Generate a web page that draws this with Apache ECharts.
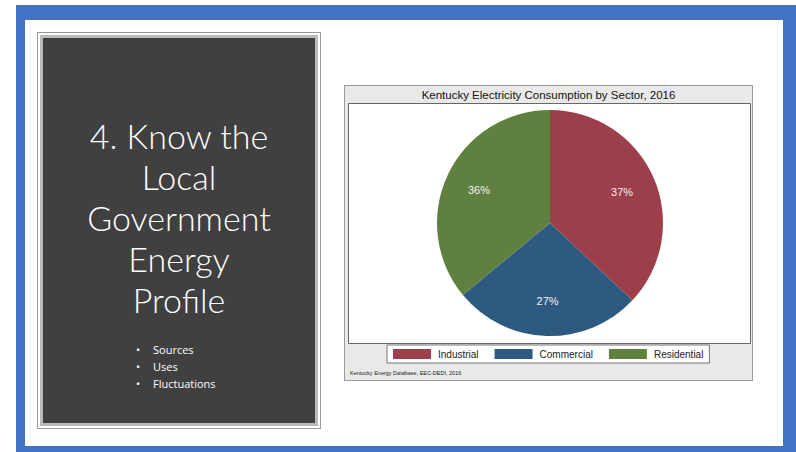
<!DOCTYPE html>
<html>
<head>
<meta charset="utf-8">
<script src="https://cdn.jsdelivr.net/npm/echarts@6/dist/echarts.min.js"></script>
<style>
  html, body { margin: 0; padding: 0; width: 796px; height: 452px; background: #fff; overflow: hidden; }
  #frame { position: absolute; left: 16px; top: 5px; width: 758px; height: 426px; border: 9px solid #4472C4; border-top-width: 15px; border-right-width: 13px; border-bottom-width: 6px; background: #fff; box-sizing: content-box; }
  #panel { position: absolute; left: 38px; top: 33px; width: 278px; height: 391px; background: #404040; border: 2px solid #fff; outline: 1px solid #999; box-shadow: 0 0 0 3px #bbb inset; }
  #panelTitle { position: absolute; left: 0; width: 100%; top: 80px; text-align: center; color: #fff; font-family: Lato, "Open Sans", sans-serif; font-weight: 300; font-size: 34px; line-height: 41px; }
  #bullets { position: absolute; left: 96px; top: 306px; color: #fff; font-family: "Open Sans", Lato, sans-serif; font-size: 11px; line-height: 17px; margin: 0; padding: 0; list-style: none; }
  #bullets li::before { content: "•"; display: inline-block; width: 17px; }
  #chart { position: absolute; left: 344px; top: 85px; width: 409px; height: 296px; background: #E9E9E9; border: 1px solid #9a9a9a; box-sizing: border-box; }
</style>
</head>
<body>
<div id="frame"></div>
<div id="panel">
  <div id="panelTitle">4. Know the<br>Local<br>Government<br>Energy<br>Profile</div>
  <ul id="bullets"><li>Sources</li><li>Uses</li><li>Fluctuations</li></ul>
</div>
<div id="chart"></div>
<script>
const chartTitle = "Kentucky Electricity Consumption by Sector, 2016";
const sourceNote = "Kentucky Energy Database, EEC-DEDI, 2016";
const sectors = ["Industrial", "Commercial", "Residential"];
const shares = [37, 27, 36];
const sectorColors = ["#9C3F4B", "#2E5981", "#5F803F"];

const pieData = sectors.map((s, i) => ({ name: s, value: shares[i], itemStyle: { color: sectorColors[i] } }));
const labelData = sectors.map((s, i) => ({ name: s, value: shares[i] }));

const chart = echarts.init(document.getElementById('chart'), null, { renderer: 'svg' });
chart.setOption({
  animation: false,
  title: {
    text: chartTitle, left: 'center', top: 3, padding: 0,
    textStyle: { fontFamily: 'Liberation Sans, Arial, sans-serif', fontSize: 11.5, fontWeight: 'normal', color: '#111' }
  },
  graphic: [
    { type: 'rect', left: 3, top: 17, shape: { width: 402, height: 240 }, style: { fill: '#fff', stroke: '#666', lineWidth: 1 }, z: -10 },
    { type: 'text', left: 5, top: 284, style: { text: sourceNote, fill: '#222', fontSize: 5.5, fontFamily: 'Liberation Sans, Arial, sans-serif' } }
  ],
  legend: {
    data: sectors,
    left: 42, top: 259,
    itemWidth: 38, itemHeight: 10, itemGap: 16,
    icon: 'rect',
    padding: [4, 6, 4, 6],
    backgroundColor: '#fff', borderColor: '#777', borderWidth: 1, borderRadius: 0,
    textStyle: { fontFamily: 'Liberation Sans, Arial, sans-serif', fontSize: 10, color: '#222', padding: [0, 0, 0, 2] }
  },
  series: [
    {
      type: 'pie', center: [205, 137], radius: [0, 113], startAngle: 90, clockwise: true,
      data: pieData, label: { show: false }, labelLine: { show: false },
      itemStyle: { borderWidth: 0 }, silent: true
    },
    {
      type: 'pie', center: [205, 137], radius: [38, 113], startAngle: 90, clockwise: true,
      data: labelData, silent: true, legendHoverLink: false,
      itemStyle: { color: 'rgba(0,0,0,0)', borderWidth: 0 },
      label: { show: true, position: 'inside', formatter: '{c}%', color: '#f2f2f2', fontSize: 11, fontFamily: 'Liberation Sans, Arial, sans-serif' },
      labelLine: { show: false }
    }
  ]
});
</script>
</body>
</html>
